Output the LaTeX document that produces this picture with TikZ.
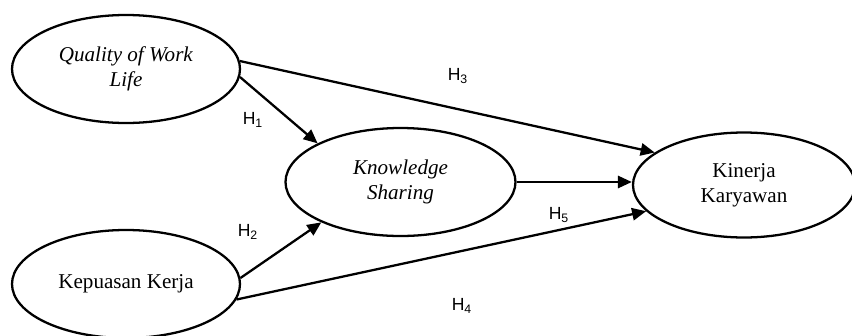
\documentclass[tikz,border=0pt]{standalone}
\usepackage{fontspec}
\setmainfont{Liberation Serif}
\newfontfamily\hfont{Liberation Sans}
\usepackage{tikz}
\usetikzlibrary{arrows.meta,shapes.geometric}

\begin{document}
\begin{tikzpicture}[scale=0.2]
              \tikzstyle{every node}+=[inner sep=0pt]
              \tikzstyle{var}=[draw=black, line width=1.3pt, ellipse, align=center, font=\large, minimum width=4.56cm, minimum height=2.16cm]
              \tikzstyle{path}=[draw=black, line width=1.3pt, -{Triangle[length=8pt,width=7pt]}]
              \tikzstyle{hyp}=[font=\hfont]
              \useasboundingbox (0,0) rectangle (85.2,-33.5);
              \node [var] (qwl) at (12.6,-6.9) {\textit{Quality of Work}\\ \textit{Life}};
              \node [var, minimum width=4.6cm] (ks) at (40.05,-18.2) {\textit{Knowledge}\\ \textit{Sharing}};
              \node [var, minimum width=4.44cm, minimum height=2.1cm] (kk) at (74.4,-18.5) {Kinerja\\ Karyawan};
              \node [var] (kep) at (12.6,-28.4) {Kepuasan Kerja};
              \draw [path] (qwl.4) -- (kk.160);
              \node [hyp] (h3) at (45.8,-7.6) {H\textsubscript{3}};
              \draw [path] (qwl.-4) -- (ks.155);
              \node [hyp] (h1) at (25.3,-12.0) {H\textsubscript{1}};
              \draw [path] (ks.east) -- (kk.west |- ks.east);
              \draw [path] (kep.3) -- (ks.207);
              \node [hyp] (h2) at (24.8,-23.2) {H\textsubscript{2}};
              \draw [path] (kep.-8) -- (kk.195);
              \node [hyp] (h5) at (55.9,-21.5) {H\textsubscript{5}};
              \node [hyp] (h4) at (46.2,-30.6) {H\textsubscript{4}};
            \end{tikzpicture}
\end{document}
